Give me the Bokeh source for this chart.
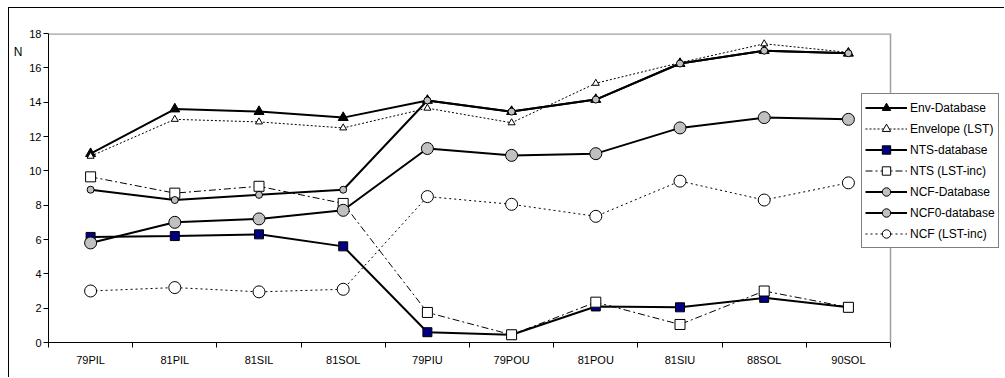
from bokeh.plotting import figure
from bokeh.models import (Range1d, FixedTicker, Legend, LegendItem, LinearAxis, Span)
from bokeh.embed import file_html
from bokeh.resources import INLINE

categories = ["79PIL", "81PIL", "81SIL", "81SOL", "79PIU", "79POU", "81POU", "81SIU", "88SOL", "90SOL"]
env_database = [11.0, 13.6, 13.45, 13.1, 14.1, 13.45, 14.15, 16.25, 17.0, 16.85]
envelope_lst = [10.85, 13.0, 12.85, 12.5, 13.65, 12.8, 15.1, 16.3, 17.4, 16.9]
nts_database = [6.15, 6.2, 6.3, 5.6, 0.6, 0.45, 2.1, 2.05, 2.6, 2.05]
nts_lst_inc = [9.65, 8.7, 9.1, 8.1, 1.75, 0.45, 2.35, 1.05, 3.0, 2.05]
ncf_database = [8.9, 8.3, 8.6, 8.9, 14.1, 13.45, 14.15, 16.25, 17.0, 16.85]
ncf0_database = [5.8, 7.0, 7.2, 7.7, 11.3, 10.9, 11.0, 12.5, 13.1, 13.0]
ncf_lst_inc = [3.0, 3.2, 2.95, 3.1, 8.5, 8.05, 7.35, 9.4, 8.3, 9.3]
y_ticks = [0, 2, 4, 6, 8, 10, 12, 14, 16, 18]
y_title = "N"

n = len(categories)
xs = [i + 0.5 for i in range(n)]
FONT = "Liberation Sans"

# layout geometry (pixels)
FIG_W, FIG_H = 996, 370
LEFT, TOP, BOTTOM = 39, 25, 36
PLOT_W = 842            # width of the actual plotting area (categories)
frame_w = FIG_W - LEFT  # frame extends to the right edge so legend can overlap
x_end = n * frame_w / PLOT_W

p = figure(width=FIG_W, height=FIG_H, output_backend="svg", toolbar_location=None,
           x_range=Range1d(0, x_end), y_range=Range1d(0, 18),
           min_border_left=LEFT, min_border_right=0, min_border_top=TOP, min_border_bottom=BOTTOM)
p.margin = (7, 0, 0, 8)
p.styles = {"border-left": "1px solid #000000", "border-top": "1px solid #000000"}
p.grid.visible = False
p.outline_line_color = None
p.background_fill_color = "white"
p.border_fill_color = "white"

# gray plot-area border (top and right)
p.add_layout(Span(location=n, dimension="height", line_color="#a0a0a0", line_width=1.5))
p.segment(x0=[0], y0=[18], x1=[n], y1=[18], line_color="#a0a0a0", line_width=2.5)

# x axis: labels at category centres, ticks at boundaries
xa = p.xaxis[0]
xa.bounds = (0, n)
xa.ticker = FixedTicker(ticks=xs, minor_ticks=list(range(n + 1)))
xa.major_label_overrides = {x: c for x, c in zip(xs, categories)}
xa.major_tick_out = 0
xa.major_tick_in = 0
xa.minor_tick_out = 5
xa.minor_tick_in = 0
xa.major_label_standoff = 6
xa.axis_line_color = "#000000"
xa.minor_tick_line_color = "#000000"
xa.major_label_text_font = FONT
xa.major_label_text_font_size = "11px"
xa.major_label_text_color = "#000000"

ya = p.yaxis[0]
ya.ticker = FixedTicker(ticks=y_ticks, minor_ticks=[])
ya.major_tick_out = 5
ya.major_tick_in = 0
ya.major_label_standoff = 2
ya.axis_line_color = "#000000"
ya.major_tick_line_color = "#000000"
ya.major_label_text_font = FONT
ya.major_label_text_font_size = "11px"
ya.major_label_text_color = "#000000"

# "N" title near top-left, as a label-only axis
n_axis = LinearAxis(ticker=FixedTicker(ticks=[16.9], minor_ticks=[]),
                    major_label_overrides={16.9: y_title},
                    axis_line_color=None, major_tick_line_color=None,
                    major_tick_out=0, major_tick_in=0, major_label_standoff=4,
                    major_label_text_font=FONT, major_label_text_font_size="12px",
                    major_label_text_color="#000000")
p.add_layout(n_axis, "left")

series = [
    ("Env-Database", env_database, dict(line_width=2, line_dash="solid"),
     dict(marker="triangle", size=10, fill_color="#000000", line_color="#000000")),
    ("Envelope (LST)", envelope_lst, dict(line_width=1, line_dash="2 2"),
     dict(marker="triangle", size=7, fill_color="#ffffff", line_color="#000000")),
    ("NTS-database", nts_database, dict(line_width=2, line_dash="solid"),
     dict(marker="square", size=9, fill_color="#000080", line_color="#000000")),
    ("NTS (LST-inc)", nts_lst_inc, dict(line_width=1, line_dash="7 3 2 3"),
     dict(marker="square", size=10, fill_color="#ffffff", line_color="#000000")),
    ("NCF-Database", ncf_database, dict(line_width=2, line_dash="solid"),
     dict(marker="circle", size=7, fill_color="#c0c0c0", line_color="#000000")),
    ("NCF0-database", ncf0_database, dict(line_width=2, line_dash="solid"),
     dict(marker="circle", size=12, fill_color="#c0c0c0", line_color="#000000")),
    ("NCF (LST-inc)", ncf_lst_inc, dict(line_width=1, line_dash="2 3"),
     dict(marker="circle", size=12, fill_color="#ffffff", line_color="#000000")),
]

items = []
for name, vals, lstyle, mstyle in series:
    r1 = p.line(xs, vals, line_color="#000000", **lstyle)
    r2 = p.scatter(xs, vals, line_width=1, **mstyle)
    items.append(LegendItem(label=name, renderers=[r1, r2]))

legend = Legend(items=items, location=(813, 94), orientation="vertical",
                border_line_color="#000000", border_line_width=1,
                background_fill_color="#ffffff", background_fill_alpha=1.0,
                padding=3, spacing=0, margin=0,
                glyph_width=42, glyph_height=21, label_height=21,
                label_standoff=3, label_text_font=FONT, label_text_font_size="12px",
                label_text_color="#000000")
p.add_layout(legend, "center")

open("out.html", "w").write(file_html(p, INLINE))
